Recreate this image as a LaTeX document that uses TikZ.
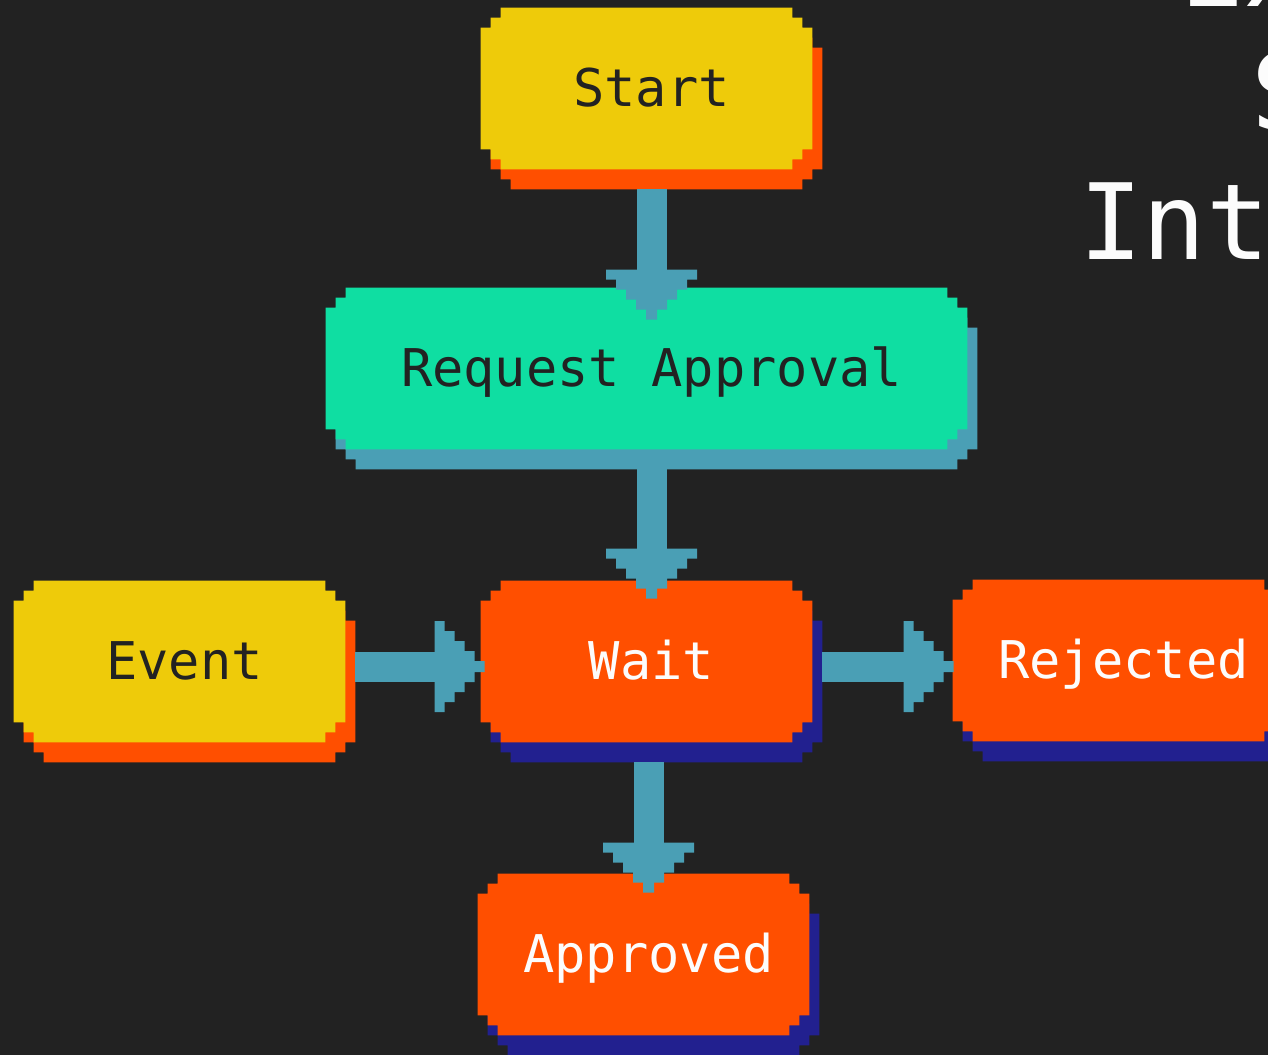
\documentclass[tikz,border=0pt]{standalone}
\usepackage{fontspec}
\setmonofont{DejaVu Sans Mono}
\usetikzlibrary{positioning}
\usetikzlibrary{calc}
\usetikzlibrary{backgrounds}
\usetikzlibrary{arrows.meta}

\definecolor{cBack}{HTML}{222222}
\definecolor{cYellow}{HTML}{EECB0A}
\definecolor{cOrange}{HTML}{FF4F00}
\definecolor{cGreen}{HTML}{0FDEA2}
\definecolor{cTeal}{HTML}{4A9FB5}
\definecolor{cNavy}{HTML}{22208F}
\definecolor{cInk}{HTML}{222222}
\definecolor{cPaper}{HTML}{FCFCFC}

% stepped (pixel) arrow head, 1px = 0.75pt
\pgfdeclarearrow{
  name = Pixel,
  setup code = {
    \pgfarrowssettipend{0pt}
    \pgfarrowssetlineend{-33pt}
    \pgfarrowssetbackend{-37.5pt}
    \pgfarrowssetvisualbackend{-37.5pt}
    \pgfarrowshullpoint{0pt}{4.125pt}
    \pgfarrowshullpoint{0pt}{-4.125pt}
    \pgfarrowshullpoint{-37.5pt}{34.125pt}
    \pgfarrowshullpoint{-37.5pt}{-34.125pt}
  },
  drawing code = {
    \pgfpathmoveto{\pgfqpoint{0pt}{4.125pt}}
    \pgfpathlineto{\pgfqpoint{-7.5pt}{4.125pt}}
    \pgfpathlineto{\pgfqpoint{-7.5pt}{11.625pt}}
    \pgfpathlineto{\pgfqpoint{-15pt}{11.625pt}}
    \pgfpathlineto{\pgfqpoint{-15pt}{19.125pt}}
    \pgfpathlineto{\pgfqpoint{-22.5pt}{19.125pt}}
    \pgfpathlineto{\pgfqpoint{-22.5pt}{26.625pt}}
    \pgfpathlineto{\pgfqpoint{-30pt}{26.625pt}}
    \pgfpathlineto{\pgfqpoint{-30pt}{34.125pt}}
    \pgfpathlineto{\pgfqpoint{-37.5pt}{34.125pt}}
    \pgfpathlineto{\pgfqpoint{-37.5pt}{-34.125pt}}
    \pgfpathlineto{\pgfqpoint{-30pt}{-34.125pt}}
    \pgfpathlineto{\pgfqpoint{-30pt}{-26.625pt}}
    \pgfpathlineto{\pgfqpoint{-22.5pt}{-26.625pt}}
    \pgfpathlineto{\pgfqpoint{-22.5pt}{-19.125pt}}
    \pgfpathlineto{\pgfqpoint{-15pt}{-19.125pt}}
    \pgfpathlineto{\pgfqpoint{-15pt}{-11.625pt}}
    \pgfpathlineto{\pgfqpoint{-7.5pt}{-11.625pt}}
    \pgfpathlineto{\pgfqpoint{-7.5pt}{-4.125pt}}
    \pgfpathlineto{\pgfqpoint{0pt}{-4.125pt}}
    \pgfpathclose
    \pgfusepathqfill
  }
}

% stepped box round a node: node, colour, x and y offset (px)
\newcommand{\pixbox}[4]{%
  \fill[#2] let \p1=($(#1.north west)+(#3,#4)$), \p2=($(#1.south east)+(#3,#4)$) in
    (\x1+15pt,\y1) -- (\x2-15pt,\y1) -- (\x2-15pt,\y1-7.5pt) -- (\x2-7.5pt,\y1-7.5pt)
    -- (\x2-7.5pt,\y1-15pt) -- (\x2,\y1-15pt) -- (\x2,\y2+15pt) -- (\x2-7.5pt,\y2+15pt)
    -- (\x2-7.5pt,\y2+7.5pt) -- (\x2-15pt,\y2+7.5pt) -- (\x2-15pt,\y2) -- (\x1+15pt,\y2)
    -- (\x1+15pt,\y2+7.5pt) -- (\x1+7.5pt,\y2+7.5pt) -- (\x1+7.5pt,\y2+15pt) -- (\x1,\y2+15pt)
    -- (\x1,\y1-15pt) -- (\x1+7.5pt,\y1-15pt) -- (\x1+7.5pt,\y1-7.5pt) -- (\x1+15pt,\y1-7.5pt) -- cycle;
}

\tikzstyle{state}=[inner sep=0pt, minimum height=120.75pt, text height=27pt, text depth=0pt, font=\ttfamily\fontsize{39}{47}\selectfont]
\tikzstyle{flow}=[draw=cTeal, fill=cTeal, line width=22.5pt, -{Pixel}]
\tikzstyle{headline}=[inner sep=0pt, anchor=base west, text=cPaper, font=\ttfamily\fontsize{79}{95}\selectfont]

\begin{document}
\begin{tikzpicture}[x=0.75pt, y=-0.75pt]

  \useasboundingbox (0,0) rectangle (1268,1055);
  \begin{pgfonlayer}{background}
    \fill[cBack] (0,0) rectangle (1268,1055);
  \end{pgfonlayer}

  \foreach \x/\y/\w/\name/\ink/\txt in {651.5/88.5/331/start/cInk/Start, 651.5/368.5/641/request/cInk/Request Approval,
      184.5/661.5/331/event/cInk/Event, 651.5/661.5/331/wait/cPaper/Wait,
      1123.5/660.5/331/rejected/cPaper/Rejected, 648.5/954.5/331/approved/cPaper/Approved}
    \node[state, minimum width=\w*0.75pt, text=\ink] (\name) at (\x,\y) {\txt};

  \begin{pgfonlayer}{background}
    \foreach \name/\face/\shade in {start/cYellow/cOrange, request/cGreen/cTeal, event/cYellow/cOrange,
        wait/cOrange/cNavy, rejected/cOrange/cNavy, approved/cOrange/cNavy} {
      \pixbox{\name}{\shade}{5}{20}
      \pixbox{\name}{\face}{-5}{0}
    }
  \end{pgfonlayer}

  \draw[flow] ($(start.south)+(0,20)$) -- ($(request.north)+(0,32)$);
  \draw[flow] ($(request.south)+(0,20)$) -- ($(wait.north)+(0,18)$);
  \draw[flow] ($(approved.north |- wait.south)+(0,20)$) -- ($(approved.north)+(0,19)$);
  \draw[flow] ($(event.east)+(5,5)$) -- ($(wait.west)+(-1,5)$);
  \draw[flow] ($(wait.east)+(5,5)$) -- ($(wait.east -| rejected.west)+(-4,5)$);

  % title, cut by the right edge
  \node[headline] (title1) at (1180,7) {Ex};
  \node[headline] (title2) at (1251,130) {S};
  \node[headline] (title3) at (1079,260) {Int};

\end{tikzpicture}
\end{document}
